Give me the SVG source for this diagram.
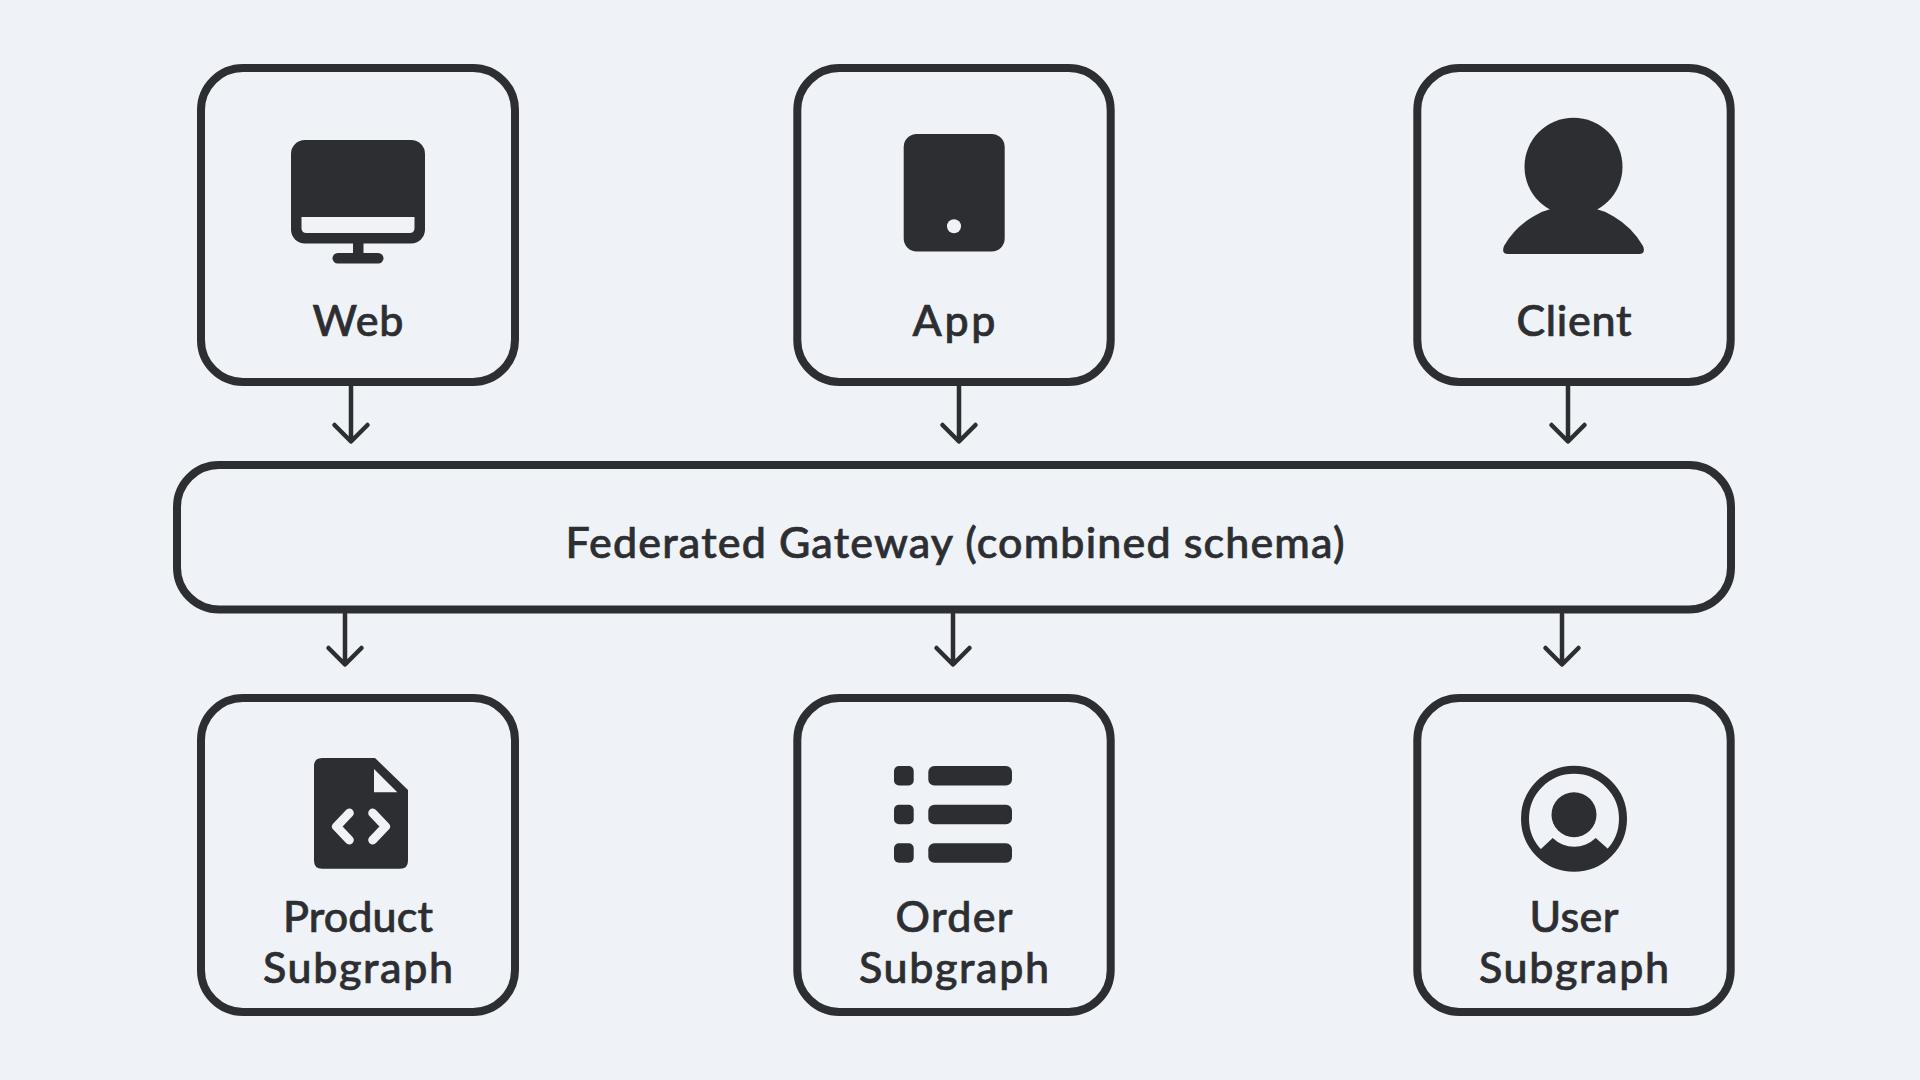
<svg xmlns="http://www.w3.org/2000/svg" width="1920" height="1080" viewBox="0 0 1920 1080">
<style>
.box{fill:#eff3f8;stroke:#2d2e32;stroke-width:8}
.ink{fill:#2d2e32}
.bg{fill:#eff3f8}
.lbl{font-family:"Lato","Liberation Sans",sans-serif;font-size:43px;font-weight:500;fill:#2d2e32;stroke:#2d2e32;stroke-width:.7px;text-anchor:middle}
.cn{fill:none;stroke:#2d2e32;stroke-width:4.500;stroke-linecap:round;stroke-linejoin:round}
.chev{fill:none;stroke:#eff3f8;stroke-width:9;stroke-linecap:round;stroke-linejoin:round}
</style>
<rect width="1920" height="1080" fill="#eff3f8"/>
<g id="connectors">
<path class="cn" d="M351 386V441M334.500 425L351 441.500L367.500 425"/>
<path class="cn" d="M959 386V441M942.500 425L959 441.500L975.500 425"/>
<path class="cn" d="M1568 386V441M1551.500 425L1568 441.500L1584.500 425"/>
<path class="cn" d="M345 614V664M328.500 648L345 664.500L361.500 648"/>
<path class="cn" d="M953 614V664M936.500 648L953 664.500L969.500 648"/>
<path class="cn" d="M1562 614V664M1545.500 648L1562 664.500L1578.500 648"/>
</g>
<g id="web">
<rect class="box" x="201" y="68" width="314" height="314" rx="42"/>
<rect class="ink" x="291" y="140" width="134" height="103.500" rx="14"/>
<path class="bg" d="M301.500 217H414.500V228Q414.500 233 409.500 233H306.500Q301.500 233 301.500 228Z"/>
<rect class="ink" x="353" y="243" width="10.500" height="12"/>
<rect class="ink" x="332.500" y="253" width="51" height="10.500" rx="5.250"/>
<text class="lbl" x="358" y="336" textLength="91">Web</text>
</g>
<g id="app">
<rect class="box" x="797.300" y="68" width="313.400" height="314" rx="42"/>
<rect class="ink" x="903.700" y="134" width="101" height="117.500" rx="13"/>
<circle class="bg" cx="954" cy="226.300" r="7"/>
<text class="lbl" x="954" y="336" textLength="83">App</text>
</g>
<g id="client">
<rect class="box" x="1417.300" y="68" width="313.400" height="314" rx="42"/>
<circle class="ink" cx="1573.500" cy="166.700" r="49"/>
<path class="ink" d="M1508 254Q1501 254 1504 246A80 80 0 0 1 1643 246Q1646 254 1639 254Z"/>
<text class="lbl" x="1574" y="336" textLength="115">Client</text>
</g>
<g id="gateway">
<rect class="box" x="177" y="465" width="1554" height="144.500" rx="42"/>
<text class="lbl" x="955" y="558" textLength="779">Federated Gateway (combined schema)</text>
</g>
<g id="product">
<rect class="box" x="201" y="698" width="314" height="314" rx="42"/>
<path class="ink" d="M322 758H375L408 790V860.700Q408 868.700 400 868.700H322Q314 868.700 314 860.700V766Q314 758 322 758Z"/>
<path class="bg" d="M374 769V792.300H397.300Z"/>
<path class="chev" d="M349.300 813L336.500 826.500L349.300 840"/>
<path class="chev" d="M372.700 813L385.500 826.500L372.700 840"/>
<text class="lbl" x="358" y="932" textLength="150">Product</text>
<text class="lbl" x="358" y="983" textLength="190">Subgraph</text>
</g>
<g id="order">
<rect class="box" x="797.300" y="698" width="313.400" height="314" rx="42"/>
<rect class="ink" x="894" y="766" width="19.700" height="19.500" rx="5"/>
<rect class="ink" x="894" y="804.700" width="19.700" height="19.500" rx="5"/>
<rect class="ink" x="894" y="843.300" width="19.700" height="19.500" rx="5"/>
<rect class="ink" x="928.300" y="766" width="83.700" height="19.500" rx="6"/>
<rect class="ink" x="928.300" y="804.700" width="83.700" height="19.500" rx="6"/>
<rect class="ink" x="928.300" y="843.300" width="83.700" height="19.500" rx="6"/>
<text class="lbl" x="954" y="932" textLength="117">Order</text>
<text class="lbl" x="954" y="983" textLength="190">Subgraph</text>
</g>
<g id="user">
<rect class="box" x="1417.300" y="698" width="313.400" height="314" rx="42"/>
<circle cx="1574" cy="818.700" r="49" fill="none" stroke="#2d2e32" stroke-width="8"/>
<circle class="ink" cx="1574" cy="814.700" r="22.500"/>
<path class="ink" d="M1541.700 848.300L1552.700 838A31 31 0 0 0 1595.700 838L1607.300 848.300L1610 852A49 49 0 0 1 1538 852Z"/>
<text class="lbl" x="1574" y="932" textLength="89">User</text>
<text class="lbl" x="1574" y="983" textLength="190">Subgraph</text>
</g>
</svg>
